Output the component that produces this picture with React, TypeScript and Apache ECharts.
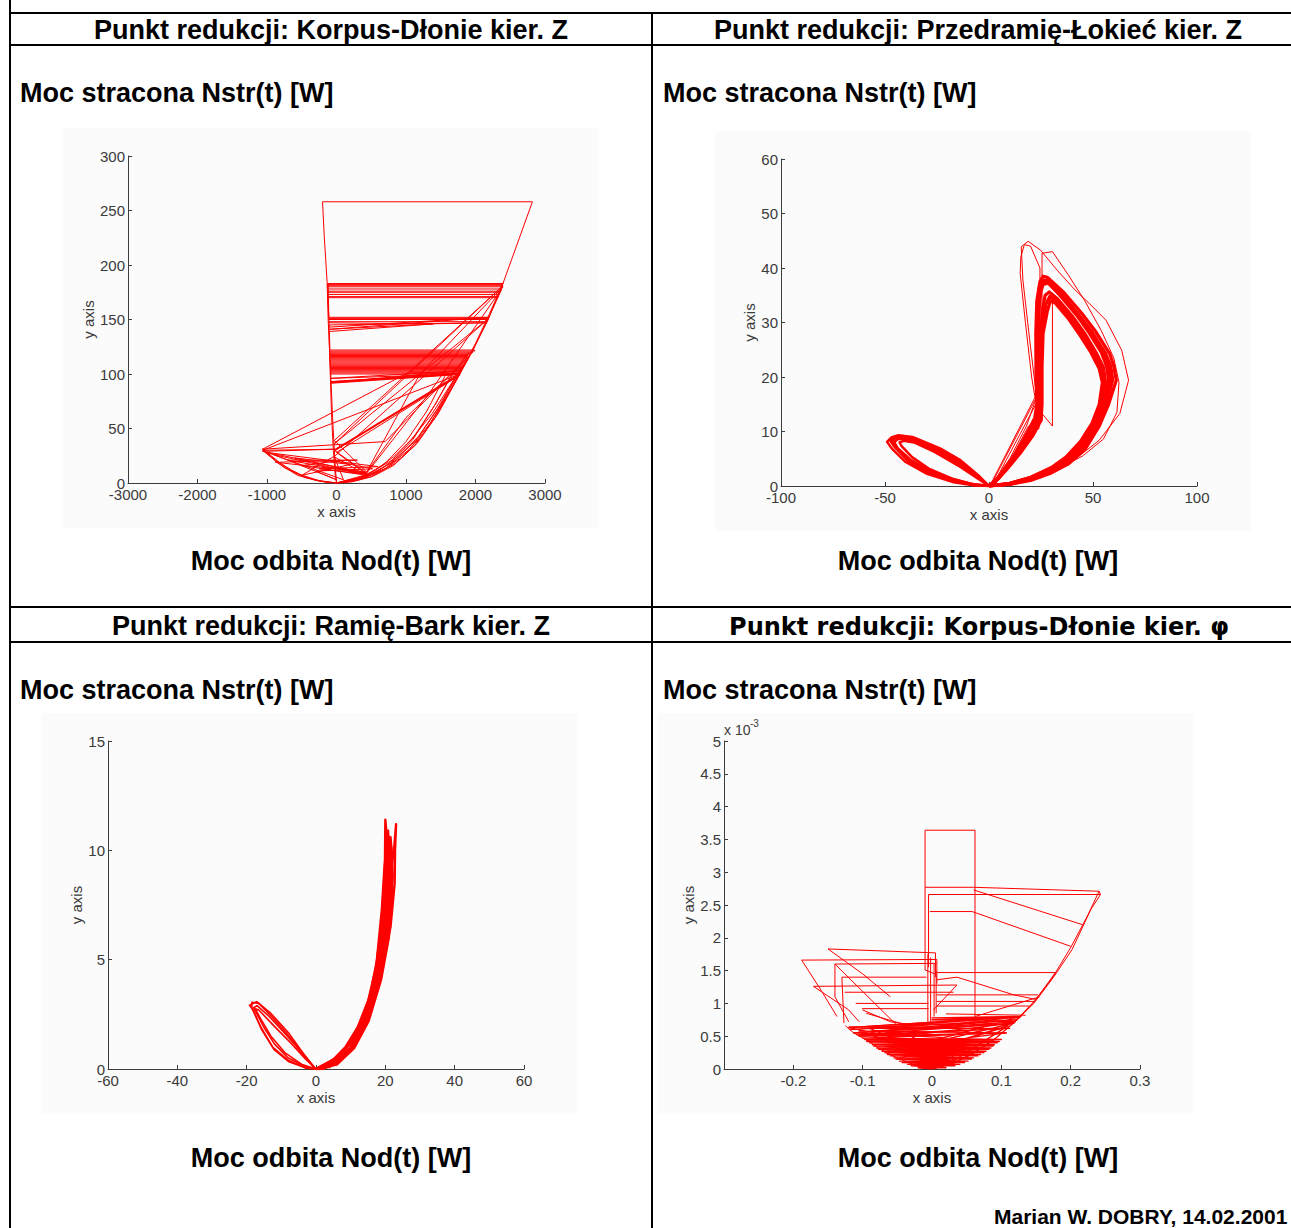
import React, { useEffect, useRef } from "react";
import * as echarts from "echarts";

type P = [number, number];

const RED = "#ff0000";
const AXIS = "#3c3c3c";
const LABEL = "#3a3a3a";
const FONT = "'Liberation Sans', Arial, sans-serif";

// ---------- axis ranges [min, max, step] ----------
const korpusZX = [-3000, 3000, 1000];
const korpusZY = [0, 300, 50];
const przedramieX = [-100, 100, 50];
const przedramieY = [0, 60, 10];
const ramieX = [-60, 60, 20];
const ramieY = [0, 15, 5];
const korpusPhiX = [-0.3, 0.3, 0.1];
const korpusPhiY = [0, 5, 0.5]; // values in units of 10^-3 W

// ---------- texts ----------
const headers = [
  "Punkt redukcji: Korpus-Dłonie kier. Z",
  "Punkt redukcji: Przedramię-Łokieć kier. Z",
  "Punkt redukcji: Ramię-Bark kier. Z",
  "Punkt redukcji: Korpus-Dłonie kier. φ",
];
const yTitle = "Moc stracona Nstr(t) [W]";
const xTitle = "Moc odbita Nod(t) [W]";
const signature = "Marian W. DOBRY, 14.02.2001";

// ---------- panel 1: Korpus-Dłonie kier. Z ----------
const korpusZEnvelope: P[][] = [
  [[-1063, 31], [-900, 23], [-805, 18], [-650, 12], [-495, 7], [-237, 2], [0, 0], [124, 0.5], [485, 5.5], [847, 18], [1156, 36], [1466, 64], [1776, 100], [1982, 125], [2189, 151], [2395, 183], [2819, 258], [-201, 258], [-175, 225], [-150, 200], [-134, 183], [-120, 150], [-100, 122], [-83, 100], [-60, 65], [-40, 40], [-31, 30], [-15, 12], [-5, 5], [0, 0]],
  [[0, 0], [300, 2.5], [650, 11], [950, 24], [1250, 45], [1550, 75], [1800, 104], [2000, 128], [2200, 155], [2400, 184]],
  [[2370, 177], [2150, 146], [1950, 120], [1720, 94], [1420, 60], [1120, 34], [820, 16], [520, 6], [220, 1], [0, 0], [-300, 2.5], [-600, 9.5], [-880, 21], [-1063, 31]],
  [[-1063, 31], [-850, 18.5], [-560, 7], [-260, 1.8], [0, 0], [380, 4], [720, 14], [1050, 31], [1350, 55], [1650, 87], [1870, 113]],
  [[1700, 96], [1380, 64], [1080, 40], [820, 24], [560, 12], [300, 4], [0, 0]],
  [[0, 0], [420, 6], [780, 18], [1100, 40], [1400, 70], [1640, 97], [1905, 120]],
  [[0, 0], [450, 8], [800, 21], [1120, 43], [1430, 73], [1700, 104]],
  [[1560, 98], [1300, 66], [1000, 38], [700, 18], [400, 6], [0, 0]],
  [[0, 0], [470, 7], [830, 20], [1140, 39], [1450, 68], [1750, 101]],
  [[1800, 106], [1500, 72], [1200, 44], [900, 25], [600, 11], [250, 2], [0, 0]],
  [[-1063, 30], [-950, 24], [-750, 14], [-450, 5], [-150, 0.6], [0, 0]],
  [[-120, 183], [-100, 120], [-70, 60], [-45, 30], [-20, 8], [0, 0]],
];
const korpusZRungs: P[][] = [
  [[-134, 183], [2395, 183], [2392, 182], [-133, 182], [-132, 181], [2388, 181], [2385, 180], [-131, 180], [-130, 178], [2372, 178], [2362, 176], [-129, 176], [-128, 175], [2352, 175], [2342, 173], [-127, 173], [-126, 171], [2330, 171], [2320, 170], [-125, 170],
    [-110, 152], [2189, 152], [2186, 151], [-109, 151], [-108, 150], [2180, 150], [2172, 148], [-107, 148], [-106, 147], [1300, 146], [2160, 147], [-105, 145], [-104, 143], [2189, 152], [-103, 141], [1400, 146], [-102, 139],
    [-95, 122], [1990, 122], [1985, 121], [-95, 121], [-94, 120], [1960, 120], [1950, 119], [-93, 119], [-92, 118], [1900, 118], [1895, 117], [-91, 117], [-91, 116], [1885, 116], [1878, 115], [-90, 115], [-90, 114], [1870, 114], [1862, 113], [-89, 113], [-89, 112], [1855, 112], [1848, 111], [-88, 111], [-88, 110], [1840, 110], [1832, 109], [-87, 109], [-87, 108], [1825, 108], [1818, 107], [-86, 107], [-86, 106], [1810, 106], [1803, 105], [-85, 105], [-85, 104], [1796, 104], [1790, 103], [-84, 103], [-84, 102], [1784, 102], [1778, 101], [-83, 101], [-83, 100], [1776, 100], [-82, 96], [1800, 103], [-80, 92], [1776, 100], [-80, 93], [1790, 101]],
];
const korpusZCross: P[][] = [
  [[-1063, 31], [1053, 102], [1776, 100], [-1063, 30], [-31, 31], [-1063, 29], [434, 9], [-31, 30], [1776, 99], [0, 28], [434, 8], [-700, 21], [300, 21], [-880, 19], [434, 10], [-31, 39], [2395, 181], [-31, 36], [2189, 151], [-20, 25], [-500, 7], [200, 17], [-600, 23], [434, 8], [-250, 13], [600, 15], [-1000, 28], [100, 3], [-31, 24], [434, 7], [-500, 16], [-20, 20], [520, 13], [-300, 11], [0, 3], [-900, 26], [300, 9], [-40, 15], [434, 9], [1330, 82], [2395, 180], [1200, 100], [434, 10], [1000, 60], [1900, 116], [700, 38], [-1063, 31]],
];
const korpusZMain: P[][] = [
  [[-31, 30], [1776, 100]],
  [[-80, 92], [1776, 100]],
];

// ---------- panel 2: Przedramię-Łokieć kier. Z ----------
const przedramieLeftLobe: P[][] = [
  [[0, 0], [-6.9, 0.1], [-16.9, 0.7], [-30.2, 2.3], [-40.1, 4.4], [-46.8, 6.9], [-49, 8.1], [-47, 8.9], [-43.5, 9.3], [-36.8, 9.0], [-23.5, 6.9], [-13.6, 4.7], [-5.2, 2.0], [-1, 0.4], [0, 0]],
  [[0, 0], [-7, 0.3], [-17, 1.2], [-29, 2.9], [-38, 4.9], [-44, 7.0], [-45.5, 8.0], [-44, 8.6], [-41, 8.7], [-35, 8.2], [-24, 6.2], [-14, 4.0], [-6, 1.7], [-1, 0.3], [0, 0]],
  [[0, 0], [-7, 0.2], [-17, 0.9], [-30, 2.6], [-39, 4.6], [-45.5, 7.2], [-47.5, 8.3], [-45.5, 9.0], [-42, 9.1], [-36, 8.6], [-23.5, 6.6], [-13.5, 4.4], [-5.5, 1.8], [-1, 0.35], [0, 0]],
  [[0, 0], [-8, 0.35], [-18, 1.4], [-29, 3.2], [-37, 5.3], [-42, 7.3], [-43, 8.0], [-41, 8.3], [-36, 8.0], [-26, 6.2], [-15, 3.8], [-6, 1.5], [0, 0]],
  [[0, 0], [-7.5, 0.25], [-17.5, 1.05], [-29.5, 2.75], [-38.5, 4.75], [-45, 7.1], [-46.5, 8.2], [-45, 8.8], [-41.5, 8.9], [-35.5, 8.4], [-24, 6.4], [-14, 4.2], [-5.8, 1.75], [0, 0]],
];
const przedramieCrescent: P[][] = [
  [[0, 0], [10, 0.3], [20, 1.0], [30, 2.4], [38, 4], [46.3, 6.8], [53, 11], [57.5, 15], [61.2, 19.4], [60, 22], [58, 24.3], [51, 28.5], [44.6, 31.7], [36, 35.5], [28, 38.3], [26, 38.5], [24.5, 37.5], [23, 34], [22.5, 28], [22.6, 20], [23, 15], [22, 12.5], [18, 9.5], [12, 5.5], [6, 2], [2, 0.4], [0, 0]],
  [[0, 0], [10, 0.4], [20, 1.3], [30, 2.9], [38, 4.6], [45, 7.3], [51, 11], [55, 15], [57.5, 19.5], [56.5, 22], [54, 24.5], [48, 28.2], [42, 31.4], [34, 35], [28.5, 37.2], [26, 37], [24.8, 35.5], [24, 32], [23.8, 25], [24, 18], [24.3, 13], [22, 11], [17, 8], [10, 4], [4, 1.2], [0, 0]],
  [[0, 0], [10, 0.5], [20, 1.6], [30, 3.4], [37, 5.3], [44, 8.2], [49.5, 11.5], [53, 15], [54.5, 19], [53, 21.5], [49, 24.5], [44, 27.5], [38, 30.8], [32, 33.5], [29.5, 34], [28, 32], [26, 28], [25.5, 22], [25.5, 15], [25, 12], [21, 9.2], [15, 6], [8, 2.8], [3, 0.8], [0, 0]],
  [[0, 0], [10, 0.35], [20, 1.15], [30, 2.6], [38, 4.3], [45.5, 7], [52, 11], [56.5, 15], [59.5, 19.5], [58.5, 22], [56, 24.4], [49.5, 28.3], [43, 31.5], [35, 35.2], [28.3, 37.8], [25.5, 37.8], [24.2, 36.5], [23.5, 33], [23.2, 26], [23.3, 19], [23.6, 14], [22, 11.8], [17.5, 8.7], [11, 4.8], [5, 1.6], [0, 0]],
  [[0, 0], [10, 0.45], [20, 1.45], [30, 3.1], [37.5, 5], [44.5, 7.8], [50.5, 11.3], [54, 15], [56, 19.2], [55, 21.8], [51.5, 24.5], [46, 28], [40, 31.2], [33, 34.3], [29, 35.6], [27, 35], [25.5, 32], [24.8, 26], [24.8, 17], [24.8, 12.5], [21.5, 10], [16, 7], [9, 3.4], [3.5, 1], [0, 0]],
  [[0, 0], [10, 0.38], [20, 1.25], [30, 2.75], [38, 4.45], [45.2, 7.15], [51.5, 11], [55.8, 15], [58.5, 19.5], [57.5, 22], [55, 24.45], [48.8, 28.25], [42.5, 31.45], [34.5, 35.1], [28.4, 37.5], [25.8, 37.4], [24.5, 36], [23.8, 32.5], [23.5, 25.5], [23.6, 18.5], [24, 13.5], [22, 11.4], [17.2, 8.4], [10.5, 4.4], [4.5, 1.4], [0, 0]],
  [[0, 0], [10, 0.48], [20, 1.52], [30, 3.25], [37.2, 5.15], [44.2, 8], [50, 11.4], [53.5, 15], [55.2, 19.1], [54, 21.6], [50.2, 24.5], [45, 27.8], [39, 31], [32.5, 33.9], [29.2, 34.8], [27.5, 33.5], [25.8, 30], [25.2, 24], [25.2, 16], [24.9, 12.2], [21.2, 9.6], [15.5, 6.5], [8.5, 3.1], [3.2, 0.9], [0, 0]],
];
const przedramieOuter: P[][] = [
  [[0, 0], [1.4, 0.4], [10, 5], [18, 11], [22.9, 16.3], [19.5, 27], [16.3, 37.8], [15.5, 43.9], [18.8, 44.9], [24.7, 43.3], [33, 39.5], [41.3, 36], [49, 33.2], [56.3, 30.4], [63.8, 24.9], [67.1, 19.4], [62.9, 13.3], [53, 8.4], [43, 5.4], [30, 2.4], [15, 0.6], [0, 0]],
  [[0, 0], [4, 1.5], [12, 6], [19, 11], [25.5, 12], [25.5, 38.5], [25.5, 42.7], [30.5, 43], [38, 38.8], [46, 34], [54, 28.5], [60, 23.5], [62.5, 19], [61.5, 13.5], [55, 8.6], [45, 5.5], [30, 2.5], [15, 0.8], [0, 0]],
  [[0, 0], [5, 1.5], [15, 6.5], [21, 10], [24, 10.5], [24.3, 15], [24.5, 40], [20, 44], [17, 44.3], [15.3, 42], [15, 39], [17.5, 30], [20.5, 20], [22, 16.5], [25, 13.5], [30.5, 11], [30.5, 35], [33.5, 34]],
  [[1.2, 0.3], [23, 16.4]],
  [[2, 0.2], [22.5, 15]],
  [[0.5, 0.1], [23.5, 17.3]],
];

// ---------- panel 3: Ramię-Bark kier. Z ----------
const ramieLeftLobe: P[][] = [
  [[0, 0], [-2.7, 0.03], [-7.8, 0.33], [-12, 0.87], [-15.6, 1.78], [-18.2, 2.7], [-19.2, 2.92], [-17.1, 3.08], [-13, 2.54], [-7.8, 1.63], [-3.7, 0.72], [-0.6, 0.1], [0, 0]],
  [[0, 0], [-3, 0.1], [-8, 0.5], [-12, 1.15], [-15, 1.9], [-17, 2.5], [-18, 2.8], [-17, 2.9], [-13.5, 2.4], [-8.5, 1.55], [-4, 0.75], [-1, 0.15], [0, 0]],
  [[0, 0], [-3, 0.05], [-8, 0.4], [-12.5, 1.0], [-16, 1.95], [-18.5, 2.8], [-18.5, 3.05], [-16.5, 3.0], [-12.5, 2.35], [-7.5, 1.45], [-3.5, 0.6], [0, 0]],
  [[0, 0], [-4, 0.2], [-9, 0.75], [-13, 1.5], [-16, 2.3], [-17.5, 2.75], [-16.5, 2.7], [-12, 1.95], [-7, 1.15], [-3, 0.45], [0, 0]],
];
const ramieRightLobe: P[][] = [
  [[0, 0], [5.6, 0.49], [9.7, 1.17], [12.8, 2.09], [15.9, 3.3], [18, 4.83], [19.5, 7.57], [20.2, 9.7], [20.6, 10.77], [21.6, 10.3], [22.1, 8.8], [20.6, 6.5], [18.5, 4.5], [14.9, 2.4], [10.7, 1.02], [5.6, 0.26], [1.4, 0], [0, 0]],
  [[0, 0], [5, 0.35], [9, 1.0], [12.5, 2.0], [15.5, 3.3], [17.5, 4.9], [19, 7.3], [19.9, 9.6], [20, 11.4], [20.6, 10.3], [20.8, 8.5], [20, 6.3], [18, 4.3], [14.5, 2.3], [10.5, 1.0], [5.5, 0.25], [0, 0]],
  [[0, 0], [6, 0.5], [10.5, 1.3], [13.5, 2.3], [16.5, 3.6], [18.8, 5.5], [20.3, 8], [21.2, 10.3], [21.5, 10.6], [22, 9.5], [21.8, 7.6], [20.3, 5.6], [17.5, 3.6], [13.5, 1.8], [9, 0.7], [4, 0.1], [0, 0]],
  [[0, 0], [5, 0.25], [10, 1.0], [14, 2.3], [17, 3.9], [19.3, 6.0], [21, 8.5], [22.6, 10.2], [23.1, 11.2], [22.8, 10], [22.7, 8.5], [21.5, 6.5], [19, 4.5], [16, 2.7], [12, 1.3], [7, 0.4], [2, 0], [0, 0]],
  [[0, 0], [4.5, 0.35], [8.5, 1.0], [12, 1.9], [15, 3.1], [17.3, 4.6], [18.8, 6.5], [19.7, 8.5], [20.3, 10.4], [20.8, 10.9], [21, 9.2], [20.5, 7.5], [19.2, 5.6], [16.8, 3.6], [13.5, 2.0], [9.5, 0.85], [5, 0.2], [0, 0]],
  [[0, 0], [5.3, 0.42], [9.3, 1.08], [12.6, 2.05], [15.7, 3.3], [17.8, 4.85], [19.3, 7.4], [20, 9.6], [20.4, 10.6], [21.1, 10.4], [21.4, 8.6], [20.3, 6.4], [18.2, 4.4], [14.7, 2.35], [10.6, 1.0], [5.5, 0.25], [0, 0]],
  [[0, 0], [5.8, 0.45], [10.2, 1.25], [13.2, 2.2], [16.2, 3.45], [18.4, 5.2], [19.9, 7.8], [20.7, 10], [21, 10.5], [21.8, 9.9], [22, 8.2], [21, 6], [18.8, 4.1], [15.2, 2.2], [11, 0.95], [6, 0.2], [0, 0]],
];

// ---------- panel 4: Korpus-Dłonie kier. φ (y in 10^-3 W) ----------
const korpusPhiEnvelope: P[][] = [
  [[-0.125, 0.66], [-0.113, 0.55], [-0.094, 0.44], [-0.065, 0.24], [-0.032, 0.09], [0, 0], [0.031, 0.09], [0.06, 0.24], [0.089, 0.44], [0.118, 0.7], [0.147, 1.0], [0.176, 1.41], [0.202, 1.82], [0.229, 2.43], [0.243, 2.66]],
  [[0, 0], [0.03, 0.08], [0.058, 0.23], [0.087, 0.43], [0.116, 0.69], [0.145, 1.0], [0.173, 1.38], [0.2, 1.85], [0.225, 2.35], [0.241, 2.71]],
  [[0, 0], [0.033, 0.1], [0.062, 0.26], [0.091, 0.46], [0.12, 0.73], [0.15, 1.06], [0.178, 1.47]],
];
const korpusPhiDense: P[][] = [
  [[-0.12, 0.63], [0.128, 0.8], [-0.118, 0.6], [0.123, 0.75], [-0.113, 0.55], [0.118, 0.7], [-0.108, 0.52], [0.112, 0.62], [-0.105, 0.5], [0.107, 0.55], [-0.1, 0.47], [0.1, 0.45], [-0.097, 0.45], [0.097, 0.42], [-0.094, 0.42], [0.094, 0.4], [-0.09, 0.4], [0.09, 0.37], [-0.086, 0.37], [0.088, 0.35], [-0.084, 0.35], [0.085, 0.32], [-0.08, 0.32], [0.082, 0.3], [-0.077, 0.3], [0.078, 0.27], [-0.072, 0.27], [0.075, 0.25], [-0.068, 0.25], [0.07, 0.22], [-0.064, 0.22], [0.066, 0.2], [-0.06, 0.2], [0.06, 0.17], [-0.055, 0.17], [0.057, 0.15], [-0.052, 0.15], [0.052, 0.12], [-0.047, 0.12], [0.047, 0.1], [-0.043, 0.1], [0.04, 0.07], [-0.035, 0.07], [0.033, 0.05], [-0.03, 0.05], [0.02, 0.02], [-0.02, 0.02], [0, 0]],
  [[-0.12, 0.64], [0, 0.64], [0.128, 0.8], [0, 0.78], [0.126, 0.78], [0, 0.75], [0.12, 0.72], [-0.113, 0.55], [0.089, 0.44], [-0.094, 0.44], [0.118, 0.7], [-0.065, 0.24], [0.128, 0.8], [-0.12, 0.63], [0.06, 0.24], [-0.077, 0.3], [0.107, 0.55], [-0.105, 0.58], [0.03, 0.09], [-0.09, 0.62], [0.1, 0.62], [-0.05, 0.15], [0.11, 0.66], [0.02, 0.05], [0.02, 0.45], [0.03, 0.45], [0.03, 0.1], [-0.03, 0.5], [-0.06, 0.6]],
];
const korpusPhiFrame: P[][] = [
  [[0.004, 1.45], [-0.01, 1.51], [-0.01, 3.64], [0.062, 3.64], [0.062, 0.8]],
  [[-0.01, 2.77], [0.06, 2.77], [0.241, 2.71], [0.243, 2.66], [-0.005, 2.66], [-0.005, 1.55]],
  [[-0.003, 2.4], [0.058, 2.4], [0.2, 1.87]],
  [[0.06, 2.73], [0.217, 2.2]],
  [[-0.15, 1.83], [0.005, 1.77], [0.005, 1.4]],
  [[-0.188, 1.66], [0.007, 1.67], [0.007, 1.3]],
  [[-0.188, 1.66], [-0.16, 1.2], [-0.137, 0.8]],
  [[-0.14, 1.6], [0.007, 1.61]],
  [[-0.14, 1.6], [-0.051, 0.67]],
  [[-0.14, 1.6], [-0.14, 1.1], [-0.12, 0.72]],
  [[-0.15, 1.83], [-0.1, 1.45], [-0.06, 1.1]],
  [[-0.13, 1.4], [-0.008, 1.4]],
  [[-0.13, 1.4], [-0.127, 0.7]],
  [[-0.171, 1.26], [0.036, 1.28], [0.002, 0.9]],
  [[-0.171, 1.26], [-0.12, 0.9], [-0.105, 0.72]],
  [[-0.126, 1.17], [0.031, 1.17]],
  [[-0.11, 1.0], [-0.005, 1.0]],
  [[-0.101, 0.92], [-0.005, 0.92]],
  [[-0.1, 0.9], [-0.06, 0.72], [-0.02, 0.66]],
  [[-0.095, 0.85], [-0.04, 0.68]],
  [[-0.006, 0.65], [-0.006, 1.75]],
  [[-0.002, 0.7], [-0.002, 1.7]],
  [[0.003, 0.8], [0.003, 1.6]],
  [[0.006, 0.85], [0.006, 1.5]],
  [[0.007, 1.47], [0.178, 1.47]],
  [[0.007, 1.36], [0.036, 1.4], [0.118, 1.13], [0.15, 1.06]],
  [[0.007, 1.03], [0.147, 1.03]],
  [[0.007, 0.96], [0.14, 0.96]],
  [[0.02, 0.84], [0.135, 0.82]],
  [[0.007, 1.13], [0.153, 1.13]],
  [[0.062, 0.8], [0.155, 1.1]],
];

// ---------- layout ----------
const panels = [
  { grid: { left: 128, top: 156, width: 417, height: 327 }, x: korpusZX, y: korpusZY, yNameGap: 31, hideMinX: false,
    bg: { x: 62, y: 128, width: 536, height: 400 },
    groups: [{ lines: korpusZEnvelope, w: 1 }, { lines: korpusZRungs, w: 1 }, { lines: korpusZCross, w: 1 }, { lines: korpusZMain, w: 2 }] },
  { grid: { left: 781, top: 159, width: 416, height: 327 }, x: przedramieX, y: przedramieY, yNameGap: 24, hideMinX: false,
    bg: { x: 715, y: 131, width: 536, height: 400 },
    groups: [{ lines: przedramieOuter, w: 1 }, { lines: przedramieLeftLobe, w: 2.5 }, { lines: przedramieCrescent, w: 3.2 }] },
  { grid: { left: 108, top: 741, width: 416, height: 328 }, x: ramieX, y: ramieY, yNameGap: 23, hideMinX: false,
    bg: { x: 42, y: 713, width: 536, height: 401 },
    groups: [{ lines: ramieLeftLobe, w: 1.6 }, { lines: ramieRightLobe, w: 2.4 }] },
  { grid: { left: 724, top: 741, width: 416, height: 328 }, x: korpusPhiX, y: korpusPhiY, yNameGap: 28, hideMinX: true,
    bg: { x: 658, y: 713, width: 536, height: 401 },
    groups: [{ lines: korpusPhiEnvelope, w: 1 }, { lines: korpusPhiDense, w: 1.4 }, { lines: korpusPhiFrame, w: 1 }] },
];

const fmt = (v: number) => String(parseFloat(Number(v).toFixed(6)));

function buildOption() {
  const nameStyle = { color: LABEL, fontSize: 15, fontFamily: FONT };
  const common = (range: number[]) => ({
    type: "value",
    min: range[0],
    max: range[1],
    interval: range[2],
    splitLine: { show: false },
    axisLine: { onZero: false, lineStyle: { color: AXIS, width: 1 } },
    axisTick: { inside: true, length: 4, lineStyle: { color: AXIS, width: 1 } },
  });
  const xAxis = panels.map((p, i) => ({
    ...common(p.x),
    gridIndex: i,
    name: "x axis",
    nameLocation: "middle",
    nameGap: 21,
    nameTextStyle: nameStyle,
    axisLabel: { color: LABEL, fontSize: 15, fontFamily: FONT, margin: 4, formatter: fmt, showMinLabel: !p.hideMinX },
  }));
  const yAxis = panels.map((p, i) => ({
    ...common(p.y),
    gridIndex: i,
    name: "y axis",
    nameLocation: "middle",
    nameRotate: 90,
    nameGap: p.yNameGap,
    nameTextStyle: nameStyle,
    axisLabel: { color: LABEL, fontSize: 15, fontFamily: FONT, margin: 3, formatter: fmt },
  }));
  const series: any[] = [];
  panels.forEach((p, i) => {
    p.groups.forEach((g) => {
      g.lines.forEach((poly) => {
        series.push({
          type: "line",
          xAxisIndex: i,
          yAxisIndex: i,
          data: poly,
          symbol: "none",
          showSymbol: false,
          silent: true,
          lineStyle: { color: RED, width: g.w, join: "round" },
          emphasis: { disabled: true },
          z: 3,
        });
      });
    });
  });

  const graphic: any[] = [];
  panels.forEach((p) => {
    graphic.push({ type: "rect", shape: p.bg, style: { fill: "#fbfbfb" }, z: -10, silent: true });
  });
  const hLine = (y: number) => ({ type: "line", shape: { x1: 9, y1: y, x2: 1291, y2: y }, style: { stroke: "#000", lineWidth: 2 }, z: 10, silent: true });
  const vLine = (x: number, y1: number) => ({ type: "line", shape: { x1: x, y1, x2: x, y2: 1228 }, style: { stroke: "#000", lineWidth: 2 }, z: 10, silent: true });
  graphic.push(hLine(13), hLine(45), hLine(607), hLine(642), vLine(10, 0), vLine(652, 13));

  const hdrFont = `bold 27px ${FONT}`;
  const txt = (text: string, x: number, y: number, font: string, align = "left") => ({
    type: "text", x, y, z: 10, silent: true,
    style: { text, font, fill: "#000", textAlign: align, textVerticalAlign: "middle" },
  });
  graphic.push(txt(headers[0], 331, 30, hdrFont, "center"));
  graphic.push(txt(headers[1], 978, 30, hdrFont, "center"));
  graphic.push(txt(headers[2], 331, 626, hdrFont, "center"));
  graphic.push(txt(headers[3], 979, 627, `bold 24px 'DejaVu Sans', sans-serif`, "center"));
  [[20, 93], [663, 93], [20, 690], [663, 690]].forEach(([x, y]) => graphic.push(txt(yTitle, x, y, hdrFont)));
  [[331, 561], [978, 561], [331, 1158], [978, 1158]].forEach(([x, y]) => graphic.push(txt(xTitle, x, y, hdrFont, "center")));
  graphic.push(txt(signature, 994, 1216, `bold 21px ${FONT}`));
  graphic.push({ type: "text", x: 724, y: 730, z: 10, silent: true, style: { text: "x 10", font: `14px ${FONT}`, fill: LABEL, textAlign: "left", textVerticalAlign: "middle" } });
  graphic.push({ type: "text", x: 750, y: 723, z: 10, silent: true, style: { text: "-3", font: `10px ${FONT}`, fill: LABEL, textAlign: "left", textVerticalAlign: "middle" } });

  return {
    animation: false,
    backgroundColor: "#ffffff",
    grid: panels.map((p) => ({ ...p.grid, containLabel: false, show: false })),
    xAxis,
    yAxis,
    series,
    graphic,
  };
}

export default function App() {
  const ref = useRef<HTMLDivElement>(null);
  useEffect(() => {
    const chart = echarts.init(ref.current as HTMLDivElement, null, { renderer: "svg" });
    chart.setOption(buildOption() as any);
    return () => chart.dispose();
  }, []);
  return (
    <div
      ref={ref}
      style={{ position: "absolute", left: 0, top: 0, width: 1291, height: 1228, background: "#fff" }}
    />
  );
}
